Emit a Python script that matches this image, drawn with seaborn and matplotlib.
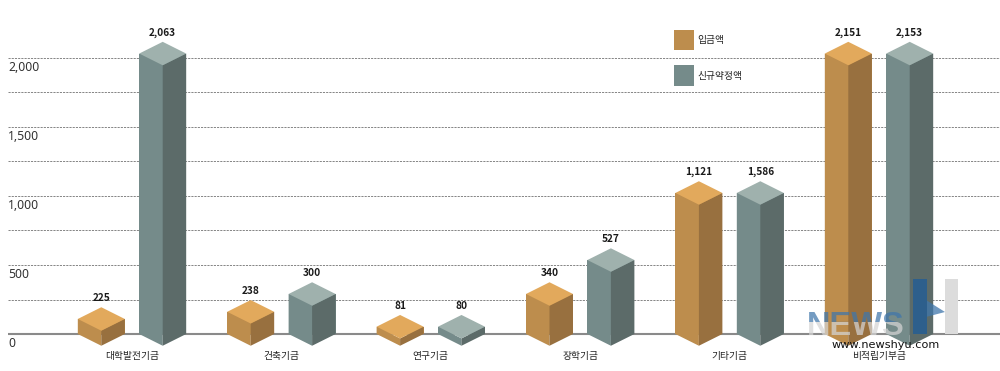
import matplotlib
matplotlib.use("Agg")
import matplotlib.pyplot as plt
import matplotlib.transforms as mtrans
from matplotlib.patches import Polygon, Rectangle
import pandas as pd
import seaborn as sns

categories = ["대학발전기금", "건축기금", "연구기금", "장학기금", "기타기금", "비적립기부금"]
series_names = ["입금액", "신규약정액"]
deposit_labels = [225, 238, 81, 340, 1121, 2151]
pledge_labels = [2063, 300, 80, 527, 1586, 2153]
# the source graphic is not to scale: drawn front-edge heights
deposit_drawn = [109, 161, 53, 290, 1022, 2032]
pledge_drawn = [2032, 290, 53, 536, 1022, 2032]
y_major = [0, 500, 1000, 1500, 2000]
y_minor = [250, 750, 1250, 1750]

TOP = ["#E2A95C", "#9FB1AD"]
LEFT = ["#BD8D4D", "#758B8A"]
RIGHT = ["#98703F", "#5C6B69"]
DEPTH = 85

sns.set_theme(style="white")
plt.rcParams["font.family"] = ["Noto Sans CJK KR", "DejaVu Sans"]

df = pd.DataFrame({
    "cat": categories * 2,
    "series": [series_names[0]] * 6 + [series_names[1]] * 6,
    "drawn": deposit_drawn + pledge_drawn,
})

fig = plt.figure(figsize=(10, 3.71), dpi=100)
ax = fig.add_axes([8 / 1000, 0, 992 / 1000, 1])
sns.barplot(data=df, x="cat", y="drawn", hue="series", order=categories, hue_order=series_names,
            palette=LEFT, saturation=1, width=0.822, gap=0.235, ax=ax, linewidth=0, legend=False)

ax.set_xlim(-124 / 149.4, 868 / 149.4)
ax.set_ylim(-268, 2420)
ax.set_xlabel("")
ax.set_ylabel("")
for s in ax.spines.values():
    s.set_visible(False)

ax.set_axisbelow(True)
ax.set_yticks(y_major, [f"{v:,}" for v in y_major], ha="left", va="center")
ax.set_yticks(y_minor, minor=True)
ax.grid(True, axis="y", which="both", color="#858585", linestyle=(0, (2.2, 1.1)), linewidth=0.7)
ax.tick_params(axis="y", which="both", length=0, pad=0, labelsize=8.8, labelcolor="#333333")
ax.tick_params(axis="x", length=0, pad=-14.4, labelsize=7, labelcolor="#222222")
shift = mtrans.ScaledTranslation(0, -9.3 / 100, fig.dpi_scale_trans)
for lab in ax.get_yticklabels():
    lab.set_transform(lab.get_transform() + shift)
    lab.set_fontfamily(["Noto Sans", "DejaVu Sans"])
    lab.set_fontweight("light")
ax.axhline(0, color="#8a8a8a", lw=1.5, zorder=0.8)

all_labels = [deposit_labels, pledge_labels]
for k, cont in enumerate(ax.containers):
    for bar, lab in zip(cont.patches, all_labels[k]):
        x0 = bar.get_x()
        x1 = x0 + bar.get_width()
        xc = (x0 + x1) / 2
        h = bar.get_height()
        ax.add_patch(Polygon([(x0, 0), (xc, -DEPTH), (xc, h - DEPTH), (x0, h)], fc=LEFT[k], ec="none", zorder=2))
        ax.add_patch(Polygon([(xc, -DEPTH), (x1, 0), (x1, h), (xc, h - DEPTH)], fc=RIGHT[k], ec="none", zorder=2))
        ax.add_patch(Polygon([(x0, h), (xc, h + DEPTH), (x1, h), (xc, h - DEPTH)], fc=TOP[k], ec="none", zorder=2))
        ax.text(xc, h + DEPTH + 66, f"{lab:,}", ha="center", va="center", fontsize=7.3,
                fontweight="bold", color="#1a1a1a", zorder=4)

handles = [Rectangle((0, 0), 1, 1, fc=LEFT[i], ec="none") for i in range(2)]
ax.legend(handles, series_names, loc="upper left", bbox_to_anchor=((674 - 8) / 992, 1 - 30 / 371),
          frameon=False, fontsize=7, handlelength=2.06, handleheight=2.85, labelspacing=1.55,
          handletextpad=0.3, borderpad=0, borderaxespad=0, labelcolor="#222222")

# watermark
def P(x, y):
    return x / 1000, 1 - y / 371

for color, y0, y1 in [("#3f76ab", 300, 322), ("#d4d4d4", 322, 340)]:
    t = fig.text(*P(807, 335), "NEWS", fontsize=23.5, fontweight="bold", color=color, alpha=0.72,
                 family="Liberation Sans", va="baseline", ha="left", zorder=6)
    t.set_clip_path(Rectangle((800, 371 - y1), 120, y1 - y0, transform=None))
fig.add_artist(Rectangle(P(945, 334), 13 / 1000, 55 / 371, transform=fig.transFigure, fc="#dcdcdc", ec="none", zorder=6))
fig.add_artist(Polygon([P(926, 300), P(945, 312), P(926, 317)], closed=True,
                       transform=fig.transFigure, fc="#3f76ab", ec="none", alpha=0.75, zorder=6))
fig.add_artist(Rectangle(P(913, 334), 14 / 1000, 55 / 371, transform=fig.transFigure, fc="#2d5f8c", ec="none", zorder=7))
fig.text(*P(886, 345), "www.newshyu.com", fontsize=8.1, color="#111111", family="DejaVu Sans",
         ha="center", va="center", zorder=8)

fig.savefig("out.png", dpi=100)
